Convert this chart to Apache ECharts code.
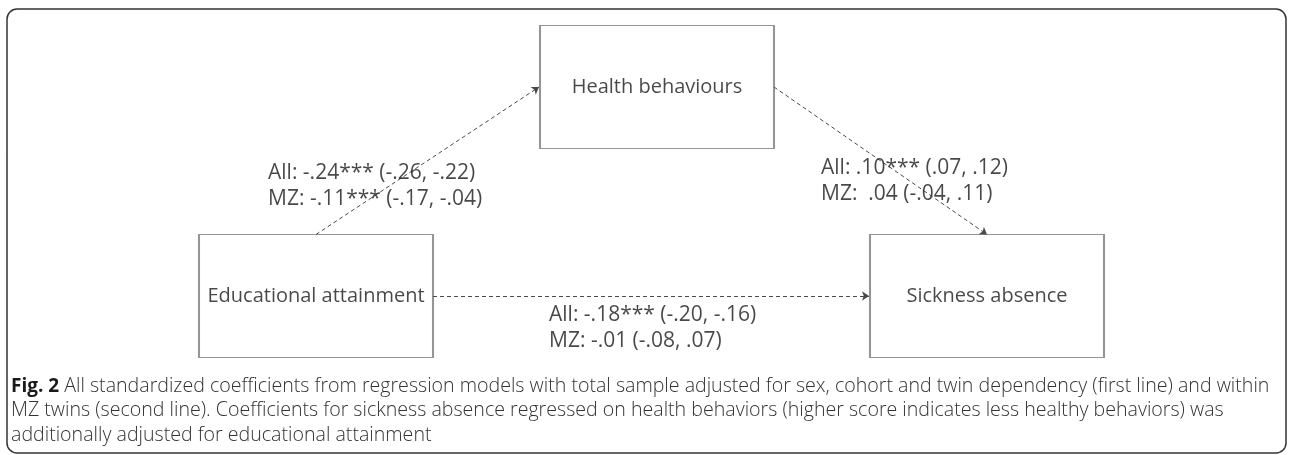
<!DOCTYPE html>
<html lang="en">

<head>
    <meta charset="UTF-8">
    <title>Fig. 2</title>
    <script src="https://cdn.jsdelivr.net/npm/echarts@6/dist/echarts.min.js"></script>
    <style>
        html, body {
            margin: 0;
            padding: 0;
            background: #fff;
        }

        #container {
            width: 1290px;
            height: 455px;
        }
    </style>
</head>

<body>
    <div id="container"></div>
</body>
<script>
    // boxes of the path diagram (centre of each box, in picture pixels)
    var nodeNames = ['Health behaviours', 'Educational attainment', 'Sickness absence'];
    var nodeX = [657, 316, 987];
    var nodeY = [87, 296, 296];

    // paths: from, to, side of the box it leaves, side it enters
    var edgeFrom = ['Educational attainment', 'Health behaviours', 'Educational attainment'];
    var edgeTo = ['Health behaviours', 'Sickness absence', 'Sickness absence'];
    var edgeFromSide = ['top', 'right', 'right'];
    var edgeToSide = ['left', 'top', 'left'];

    // coefficients for each path, first line total sample, second line MZ twins
    var allCoef = ['-.24***', '.10***', '-.18***'];
    var allCI = ['(-.26, -.22)', '(.07, .12)', '(-.20, -.16)'];
    var mzCoef = ['-.11***', ' .04', '-.01'];
    var mzCI = ['(-.17, -.04)', '(-.04, .11)', '(-.08, .07)'];

    var captionLines = [
        'All standardized coefficients from regression models with total sample adjusted for sex, cohort and twin dependency (first line) and within',
        'MZ twins (second line). Coefficients for sickness absence regressed on health behaviors (higher score indicates less healthy behaviors) was',
        'additionally adjusted for educational attainment'
    ];

    var boxW = 234, boxH = 123;
    var diagramFont = '"Open Sans", "Noto Sans", sans-serif';
    var textColor = '#1a1a1a';

    var anchor = function (name, side) {
        var i = nodeNames.indexOf(name);
        var x = nodeX[i], y = nodeY[i];
        if (side === 'top') return [x, y - boxH / 2];
        if (side === 'bottom') return [x, y + boxH / 2];
        if (side === 'left') return [x - boxW / 2 - 1, y];
        return [x + boxW / 2, y];
    };

    var edgeData = edgeFrom.map(function (f, i) {
        return { coords: [anchor(f, edgeFromSide[i]), anchor(edgeTo[i], edgeToSide[i])] };
    });

    // where each coefficient label sits (left edge, middle of the two lines)
    var labelPos = [[268, 186], [821, 181], [549, 328]];
    var labelData = allCoef.map(function (c, i) {
        return {
            value: labelPos[i],
            label: {
                formatter: 'All: ' + c + ' ' + allCI[i] + '\nMZ: ' + mzCoef[i] + ' ' + mzCI[i]
            }
        };
    });

    var chartDom = document.getElementById('container');
    var myChart = echarts.init(chartDom, null, { renderer: 'canvas' });
    var option = {
        animation: false,
        grid: { left: 0, right: 0, top: 0, bottom: 0 },
        xAxis: { type: 'value', min: 0, max: 1290, show: false },
        yAxis: { type: 'value', min: 0, max: 455, inverse: true, show: false },
        graphic: [
            {
                type: 'rect',
                shape: { x: 7, y: 9, width: 1279, height: 444, r: 10 },
                style: { fill: 'none', stroke: '#333', lineWidth: 1.5 },
                z: 0
            },
            {
                type: 'text',
                left: 11,
                top: 374,
                style: {
                    text: '{b|Fig. 2} ' + captionLines.join('\n'),
                    fill: '#333',
                    font: '300 19.6px "Open Sans", sans-serif',
                    lineHeight: 24.5,
                    rich: {
                        b: { fontWeight: 'bold', fontSize: 19, fontFamily: 'Open Sans', fill: '#1a1a1a' }
                    }
                },
                z: 10
            }
        ],
        series: [
            {
                type: 'lines',
                coordinateSystem: 'cartesian2d',
                data: edgeData,
                symbol: ['none', 'arrow'],
                symbolSize: 7,
                lineStyle: { color: '#4a4a4a', width: 1, type: [4, 3], opacity: 1 },
                z: 3
            },
            {
                type: 'scatter',
                data: nodeNames.map(function (n, i) { return { name: n, value: [nodeX[i], nodeY[i]] }; }),
                symbol: 'rect',
                symbolSize: [boxW, boxH],
                itemStyle: { color: '#fff', borderColor: '#7a7a7a', borderWidth: 1.5 },
                label: {
                    show: true,
                    position: 'inside',
                    formatter: '{b}',
                    color: textColor,
                    fontSize: 20,
                    fontFamily: diagramFont
                },
                emphasis: { disabled: true },
                z: 2
            },
            {
                type: 'scatter',
                data: labelData,
                symbolSize: 0,
                label: {
                    show: true,
                    position: 'right',
                    distance: 0,
                    color: textColor,
                    fontSize: 21,
                    lineHeight: 26,
                    fontFamily: diagramFont
                },
                emphasis: { disabled: true },
                z: 4
            }
        ]
    };

    myChart.setOption(option);
</script>

</html>
